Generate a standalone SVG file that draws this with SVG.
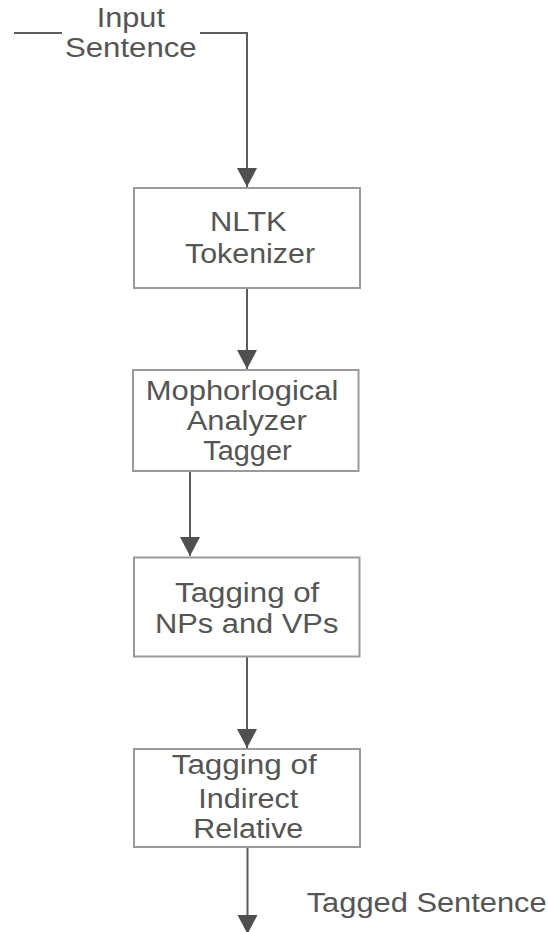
<svg xmlns="http://www.w3.org/2000/svg" width="548" height="932" viewBox="0 0 548 932">
<style>
.box{fill:#ffffff;stroke:#9a9a9a;stroke-width:2}
.conn{fill:none;stroke:#5c5c5c;stroke-width:2}
.t{font-family:"Liberation Sans",Arial,sans-serif;font-size:27px;fill:#555555}
</style>
<defs>
<marker id="arr" markerUnits="userSpaceOnUse" markerWidth="22" markerHeight="20" refX="10" refY="19" orient="auto-start-reverse" viewBox="0 0 22 20">
<path d="M0 0 L20 0 L10 19 Z" fill="#505050" transform="translate(0,0)"/>
</marker>
<marker id="arrd" markerUnits="userSpaceOnUse" markerWidth="22" markerHeight="20" refX="10.5" refY="19" orient="0" viewBox="0 0 22 20">
<path d="M0.5 0 L20.5 0 L10.5 19 Z" fill="#505050"/>
</marker>
</defs>
<rect width="548" height="932" fill="#ffffff"/>
<g id="connectors">
<path class="conn" d="M14 33 H62"/>
<path class="conn" d="M200 33 H247 V187" marker-end="url(#arrd)"/>
<path class="conn" d="M247 288 V369" marker-end="url(#arrd)"/>
<path class="conn" d="M190 471 V556" marker-end="url(#arrd)"/>
<path class="conn" d="M247 657 V748" marker-end="url(#arrd)"/>
<path class="conn" d="M247.5 847 V934" marker-end="url(#arrd)"/>
</g>
<g id="input-label">
<text class="t" x="96.7" y="26.7" textLength="68.3" lengthAdjust="spacingAndGlyphs">Input</text>
<text class="t" x="65" y="56.7" textLength="131.7" lengthAdjust="spacingAndGlyphs">Sentence</text>
</g>
<g id="nltk-tokenizer">
<rect class="box" x="134" y="188" width="226" height="100"/>
<text class="t" x="210" y="230.7" textLength="76.7" lengthAdjust="spacingAndGlyphs">NLTK</text>
<text class="t" x="185" y="262.7" textLength="130" lengthAdjust="spacingAndGlyphs">Tokenizer</text>
</g>
<g id="morph-analyzer">
<rect class="box" x="133" y="370" width="225.5" height="101"/>
<text class="t" x="145.7" y="400" textLength="192.7" lengthAdjust="spacingAndGlyphs">Mophorlogical</text>
<text class="t" x="186.7" y="430" textLength="120" lengthAdjust="spacingAndGlyphs">Analyzer</text>
<text class="t" x="203.3" y="460" textLength="88.3" lengthAdjust="spacingAndGlyphs">Tagger</text>
</g>
<g id="tagging-np-vp">
<rect class="box" x="134" y="557.5" width="225.5" height="99"/>
<text class="t" x="175" y="601.7" textLength="144.3" lengthAdjust="spacingAndGlyphs">Tagging of</text>
<text class="t" x="155" y="633.3" textLength="183.3" lengthAdjust="spacingAndGlyphs">NPs and VPs</text>
</g>
<g id="tagging-indirect">
<rect class="box" x="134" y="749" width="226" height="98"/>
<text class="t" x="171.7" y="774.3" textLength="145" lengthAdjust="spacingAndGlyphs">Tagging of</text>
<text class="t" x="198.3" y="808.3" textLength="100" lengthAdjust="spacingAndGlyphs">Indirect</text>
<text class="t" x="193.3" y="838.3" textLength="110" lengthAdjust="spacingAndGlyphs">Relative</text>
</g>
<g id="output-label">
<text class="t" x="306.7" y="911.7" textLength="240" lengthAdjust="spacingAndGlyphs">Tagged Sentence</text>
</g>
</svg>
